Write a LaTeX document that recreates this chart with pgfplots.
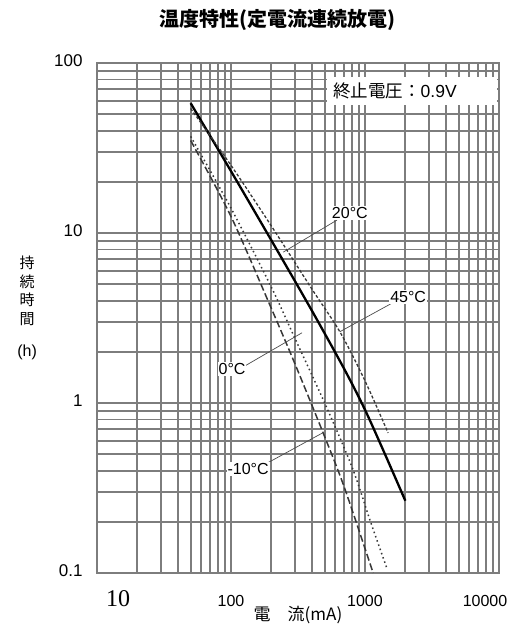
\documentclass[border=0pt]{standalone}
\usepackage{pgfplots}
\pgfplotsset{compat=1.18}
\usepackage{fontspec}
\setmainfont{Liberation Sans}
\newfontfamily\cjk{Noto Sans CJK JP}
\newfontfamily\serifnum{Liberation Serif}
\definecolor{gridgray}{RGB}{125,125,125}
\definecolor{curvegray}{RGB}{55,55,55}
\begin{document}
\begin{tikzpicture}
\begin{axis}[
  scale only axis, width=402bp, height=510bp,
  xmode=log, ymode=log,
  xmin=10, xmax=10000, ymin=0.1, ymax=100,
  xtick={10,100,1000,10000},
  xticklabels={{\hspace*{42bp}\serifnum\fontsize{24bp}{24bp}\selectfont 10},100,1000,{\hspace*{-28bp}10000}},
  ytick={0.1,1,10,100},
  yticklabels={0.1,1,10,100},
  grid=both,
  major grid style={gridgray, line width=1.8bp},
  minor grid style={gridgray, line width=1.8bp},
  axis line style={gridgray, line width=1.8bp},
  major tick length=0pt, minor tick length=0pt,
  tick style={draw=none},
  xticklabel style={anchor=base, yshift=-34bp, font=\fontsize{16bp}{16bp}\selectfont},
  yticklabel style={anchor=east, xshift=-11bp, yshift=2bp, font=\fontsize{17bp}{17bp}\selectfont},
  clip=false,
]
\path (rel axis cs:-0.2413,-0.1118) rectangle (rel axis cs:1.0323,1.1235);

% 20 C (solid)
\addplot[black, line width=2.3bp, smooth] coordinates {
(50,58) (100,23.1) (200,9.06) (400,3.51) (700,1.585) (1000,0.912) (1400,0.506) (2000,0.266)};
% 45 C
\addplot[curvegray, line width=1.3bp, dash pattern=on 3bp off 2bp, smooth] coordinates {
(50,54) (100,25) (200,11) (400,4.7) (650,2.62) (1000,1.35) (1487,0.667)};
% 0 C
\addplot[curvegray, line width=1.5bp, dash pattern=on 1.5bp off 3bp, smooth] coordinates {
(50,37) (100,14) (200,4.8) (300,2.4) (500,1.0) (800,0.42) (1100,0.2) (1460,0.106)};
% -10 C
\addplot[curvegray, line width=1.5bp, dash pattern=on 7bp off 3bp, smooth] coordinates {
(50,35) (100,12.5) (200,3.6) (300,1.7) (487,0.667) (700,0.32) (1150,0.1)};

% leaders
\draw[black!70, line width=0.7bp] (rel axis cs:0.597,0.692) -- (rel axis cs:0.463,0.629);
\draw[black!70, line width=0.7bp] (rel axis cs:0.736,0.530) -- (rel axis cs:0.604,0.473);
\draw[black!70, line width=0.7bp] (rel axis cs:0.368,0.406) -- (rel axis cs:0.510,0.471);
\draw[black!70, line width=0.7bp] (rel axis cs:0.420,0.214) -- (rel axis cs:0.562,0.275);

\node[fill=white, inner sep=1bp, font=\fontsize{16bp}{16bp}\selectfont] at (rel axis cs:0.629,0.706) {20°C};
\node[fill=white, inner sep=1bp, font=\fontsize{16bp}{16bp}\selectfont] at (rel axis cs:0.774,0.541) {45°C};
\node[fill=white, inner sep=1bp, font=\fontsize{16bp}{16bp}\selectfont] at (rel axis cs:0.336,0.400) {0°C};
\node[fill=white, inner sep=1bp, font=\fontsize{16bp}{16bp}\selectfont] at (rel axis cs:0.376,0.204) {-10°C};

% cutoff voltage box
\node[fill=white, minimum width=170bp, minimum height=28bp, inner sep=0pt] at (rel axis cs:0.784,0.945) {};
\node[anchor=west, inner sep=0pt, font=\fontsize{17.5bp}{17.5bp}\selectfont] at (rel axis cs:0.587,0.945) {{\cjk 終止電圧：}0.9V};

% title
\node[font=\cjk\bfseries\fontsize{20bp}{20bp}\selectfont] at (rel axis cs:0.450,1.084) {温度特性(定電流連続放電)};

% y label
\node[align=center, font=\cjk\fontsize{15bp}{18.5bp}\selectfont] at (rel axis cs:-0.174,0.553) {持\\続\\時\\間};
\node[font=\fontsize{16bp}{16bp}\selectfont] at (rel axis cs:-0.174,0.433) {(h)};

% x label
\node[font=\cjk\fontsize{17bp}{17bp}\selectfont] at (rel axis cs:0.5,-0.082) {電　流(mA)};
\end{axis}
\end{tikzpicture}
\end{document}
